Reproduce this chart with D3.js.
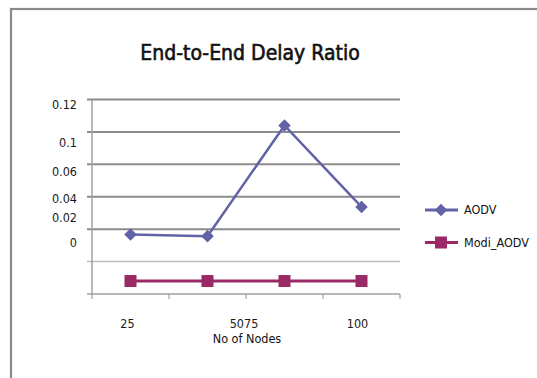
<!DOCTYPE html>
<html><head><meta charset="utf-8">
<script src="https://cdn.jsdelivr.net/npm/d3@7"></script>
<style>body{margin:0;background:#fff}svg{display:block}</style>
</head><body>
<script>
const categories = ["25","50","75","100"];
const aodv = [0.0367, 0.0357, 0.104, 0.0537];
const modiAodv = [0.008, 0.008, 0.008, 0.008];
const gridValues = [0.12, 0.1, 0.08, 0.06, 0.04, 0.02];
const yTickLabels = ["0.12","0.1","0.06","0.04","0.02","0"];
const yTickLabelAt = [0.1169, 0.0937, 0.0757, 0.0589, 0.0470, 0.0314];
const seriesNames = ["AODV","Modi_AODV"];
const title = "End-to-End Delay Ratio";
const xTitle = "No of Nodes";

const W=537,H=378;
const font = "'DejaVu Sans Condensed','DejaVu Sans',sans-serif";
const svg = d3.select("body").append("svg").attr("width",W).attr("height",H);
svg.append("rect").attr("width",W).attr("height",H).attr("fill","#fff");
svg.append("rect").attr("x",11).attr("y",9).attr("width",600).attr("height",420)
  .attr("fill","none").attr("stroke","#8a8a8a").attr("stroke-width",2.2);

const x = d3.scaleBand().domain(categories).range([92,400]);
const y = d3.scaleLinear().domain([0,0.12]).range([294,99.5]);
const colA="#6262a6", colM="#9a2a66";

svg.append("text").attr("x",250).attr("y",60).attr("text-anchor","middle")
  .attr("font-family",font).attr("font-size",21).attr("fill","#111")
  .attr("stroke","#111").attr("stroke-width",0.6).text(title);

// gridlines
svg.selectAll(".g").data(gridValues).enter().append("line")
  .attr("x1",87).attr("x2",400).attr("y1",d=>y(d)).attr("y2",d=>y(d))
  .attr("stroke",d=>d===0.02?"#bdbdbd":"#8c8c8c").attr("stroke-width",d=>d===0.02?1.5:2);
// axes
svg.append("line").attr("x1",92).attr("x2",92).attr("y1",y(0.12)).attr("y2",294).attr("stroke","#a0a0a0").attr("stroke-width",1.5);
svg.append("line").attr("x1",87).attr("x2",400).attr("y1",294).attr("y2",294).attr("stroke","#a0a0a0").attr("stroke-width",1.5);
const xt=[...categories.map(c=>x(c)), x.range()[1]];
svg.selectAll(".xt").data(xt).enter().append("line").attr("x1",d=>d).attr("x2",d=>d)
  .attr("y1",294).attr("y2",299).attr("stroke","#a0a0a0").attr("stroke-width",1.2);

// y labels
svg.selectAll(".yl").data(yTickLabels).enter().append("text")
  .attr("x",77).attr("y",(d,i)=>y(yTickLabelAt[i])).attr("dy","0.35em").attr("text-anchor","end")
  .attr("font-family",font).attr("font-size",12.5).attr("fill","#1a1a1a").text(d=>d);

// x labels: middle two labels run together
const cx=c=>x(c)+x.bandwidth()/2;
const n=categories.length;
const xl=[{t:categories[0],p:cx(categories[0])-3},
  {t:categories.slice(1,n-1).join(""),p:(cx(categories[1])+cx(categories[n-2]))/2-2},
  {t:categories[n-1],p:cx(categories[n-1])-4}];
svg.selectAll(".xl").data(xl).enter().append("text").attr("x",d=>d.p).attr("y",328)
  .attr("text-anchor","middle").attr("font-family",font).attr("font-size",12.5).attr("fill","#1a1a1a").text(d=>d.t);
svg.append("text").attr("x",247).attr("y",343).attr("text-anchor","middle")
  .attr("font-family",font).attr("font-size",12.5).attr("fill","#111").text(xTitle);

const line=d3.line().x((d,i)=>cx(categories[i])).y(d=>y(d));
svg.append("path").attr("d",line(aodv)).attr("fill","none").attr("stroke",colA).attr("stroke-width",2.5);
svg.append("path").attr("d",line(modiAodv)).attr("fill","none").attr("stroke",colM).attr("stroke-width",3);
const diamond=d3.symbol().type(d3.symbolDiamond2).size(100);
svg.selectAll(".da").data(aodv).enter().append("path").attr("d",diamond)
  .attr("transform",(d,i)=>`translate(${cx(categories[i])},${y(d)})`).attr("fill",colA);
svg.selectAll(".sm").data(modiAodv).enter().append("rect")
  .attr("x",(d,i)=>cx(categories[i])-6).attr("y",d=>y(d)-6).attr("width",12).attr("height",12).attr("fill",colM);

// legend
const lg=[{n:seriesNames[0],c:colA,y:210,s:"d"},{n:seriesNames[1],c:colM,y:242.5,s:"s"}];
lg.forEach(d=>{
  svg.append("line").attr("x1",425).attr("x2",458).attr("y1",d.y).attr("y2",d.y).attr("stroke",d.c).attr("stroke-width",3);
  if(d.s==="d") svg.append("path").attr("d",diamond).attr("transform",`translate(441,${d.y})`).attr("fill",d.c);
  else svg.append("rect").attr("x",435).attr("y",d.y-6).attr("width",12).attr("height",12).attr("fill",d.c);
  svg.append("text").attr("x",464).attr("y",d.y).attr("dy","0.35em").attr("font-family",font).attr("font-size",12.5).attr("fill","#111").text(d.n);
});
</script>
</body></html>
